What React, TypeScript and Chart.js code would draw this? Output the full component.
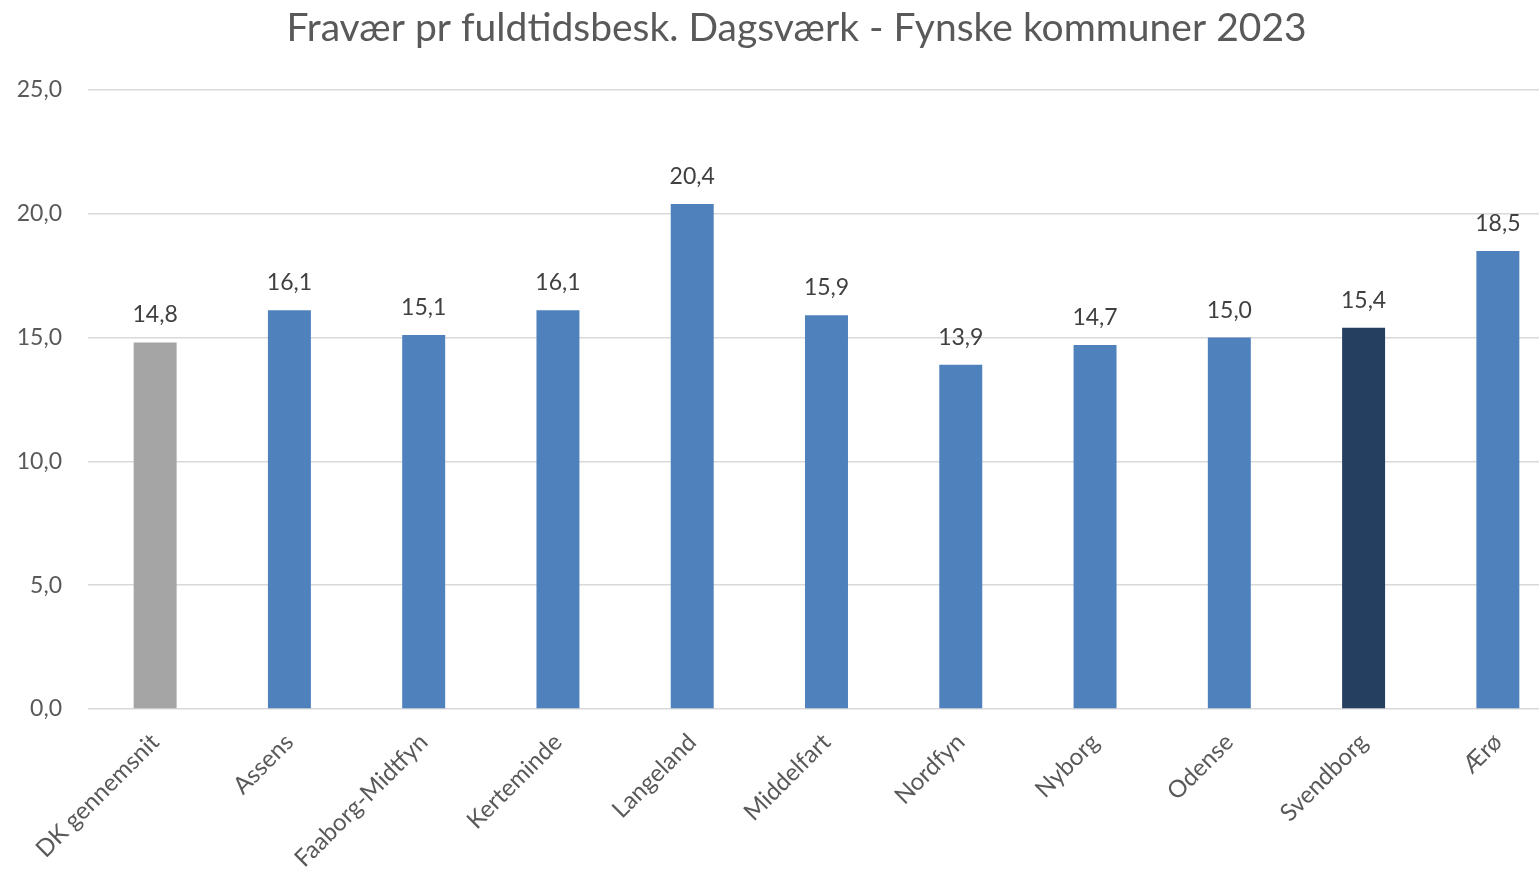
import React, { useEffect, useRef } from "react";
import { Chart, registerables } from "chart.js";

Chart.register(...registerables);

const titleText = "Fravær pr fuldtidsbesk. Dagsværk - Fynske kommuner 2023";
const categories = [
  "DK gennemsnit",
  "Assens",
  "Faaborg-Midtfyn",
  "Kerteminde",
  "Langeland",
  "Middelfart",
  "Nordfyn",
  "Nyborg",
  "Odense",
  "Svendborg",
  "Ærø",
];
const values = [14.8, 16.1, 15.1, 16.1, 20.4, 15.9, 13.9, 14.7, 15.0, 15.4, 18.5];
const barColors = [
  "#A5A5A5",
  "#4F81BD",
  "#4F81BD",
  "#4F81BD",
  "#4F81BD",
  "#4F81BD",
  "#4F81BD",
  "#4F81BD",
  "#4F81BD",
  "#243F60",
  "#4F81BD",
];
const yMin = 0;
const yMax = 25;
const yStep = 5;

const FONT = "Lato, 'Open Sans', sans-serif";
const fmt = (v: number) => v.toFixed(1).replace(".", ",");

const valueLabels = {
  id: "valueLabels",
  afterDatasetsDraw(chart: any) {
    const ctx = chart.ctx;
    const meta = chart.getDatasetMeta(0);
    ctx.save();
    ctx.font = `23px ${FONT}`;
    ctx.fillStyle = "#404040";
    ctx.textAlign = "center";
    ctx.textBaseline = "bottom";
    meta.data.forEach((bar: any, i: number) => {
      const v = chart.data.datasets[0].data[i];
      ctx.fillText(fmt(v), bar.x, bar.y - 16);
    });
    ctx.restore();
  },
};

const chartTitle = {
  id: "chartTitle",
  afterDraw(chart: any) {
    const ctx = chart.ctx;
    ctx.save();
    ctx.font = `39px ${FONT}`;
    ctx.fillStyle = "#595959";
    ctx.textAlign = "center";
    ctx.textBaseline = "middle";
    ctx.fillText(titleText, 796.5, 28);
    ctx.restore();
  },
};

export default function App() {
  const ref = useRef<HTMLCanvasElement>(null);
  useEffect(() => {
    document.body.style.margin = "0";
    const chart = new Chart(ref.current!, {
      type: "bar",
      data: {
        labels: categories,
        datasets: [
          {
            data: values,
            backgroundColor: barColors,
            borderWidth: 0,
            categoryPercentage: 1,
            barPercentage: 0.32,
          },
        ],
      },
      options: {
        responsive: false,
        animation: false,
        devicePixelRatio: 1,
        layout: { padding: { left: 0, right: 0, top: 90, bottom: 0 } },
        plugins: {
          legend: { display: false },
          tooltip: { enabled: false },
          title: { display: false },
        },
        scales: {
          x: {
            grid: { display: false },
            border: { display: false },
            ticks: {
              color: "#595959",
              font: { family: FONT, size: 24 },
              minRotation: 45,
              maxRotation: 45,
              autoSkip: false,
              padding: 11,
            },
            afterFit: (s: any) => {
              s.height = 169;
            },
          },
          y: {
            min: yMin,
            max: yMax,
            grid: { color: "#D9D9D9", lineWidth: 1.5, drawTicks: false },
            border: { display: false },
            ticks: {
              stepSize: yStep,
              color: "#595959",
              font: { family: FONT, size: 23 },
              padding: 26,
              callback: (v: any) => fmt(Number(v)),
            },
            afterFit: (s: any) => {
              s.width = 88;
            },
          },
        },
      },
      plugins: [valueLabels, chartTitle],
    });
    return () => chart.destroy();
  }, []);
  return (
    <div
      style={{
        position: "fixed",
        left: 0,
        top: 0,
        width: 1539,
        height: 878,
        overflow: "hidden",
        background: "#fff",
      }}
    >
      <canvas ref={ref} width={1565} height={878} style={{ display: "block" }} />
    </div>
  );
}
